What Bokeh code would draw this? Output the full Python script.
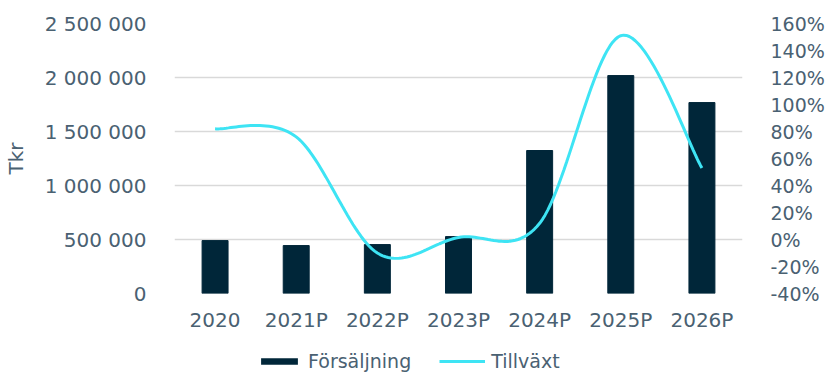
from bokeh.plotting import figure
from bokeh.layouts import column
from bokeh.models import (Range1d, LinearAxis, FactorRange, CustomJSTickFormatter,
                          FixedTicker, Legend, LegendItem, ColumnDataSource)
from bokeh.embed import file_html
from bokeh.resources import INLINE

categories = ["2020", "2021P", "2022P", "2023P", "2024P", "2025P", "2026P"]
sales = [490000, 444000, 453000, 527000, 1324000, 2018000, 1768000]
growth = [82, 76, -10, 1.5, 12, 151, 53]
left_ticks = [0, 500000, 1000000, 1500000, 2000000, 2500000]
right_ticks = [-40, -20, 0, 20, 40, 60, 80, 100, 120, 140, 160]
series_names = ["Försäljning", "Tillväxt"]

BAR = "#002639"
LINE = "#3ee4f4"
TXT = "#4a6172"
FONT = "DejaVu Sans"
FS = "20px"
FS_R = "19px"
NAN = float("nan")


def smooth(xs, ys, steps=30):
    # Catmull-Rom style Bezier smoothing (like spreadsheet "smoothed line")
    n = len(xs)
    px = [xs[0]] + list(xs) + [xs[-1]]
    py = [ys[0]] + list(ys) + [ys[-1]]
    outx, outy = [], []
    for i in range(n - 1):
        p0 = (px[i], py[i]); p1 = (px[i + 1], py[i + 1])
        p2 = (px[i + 2], py[i + 2]); p3 = (px[i + 3], py[i + 3])
        c1 = (p1[0] + (p2[0] - p0[0]) / 6, p1[1] + (p2[1] - p0[1]) / 6)
        c2 = (p2[0] - (p3[0] - p1[0]) / 6, p2[1] - (p3[1] - p1[1]) / 6)
        for s in range(steps + (1 if i == n - 2 else 0)):
            t = s / steps
            a = (1 - t) ** 3; b = 3 * (1 - t) ** 2 * t; c = 3 * (1 - t) * t ** 2; d = t ** 3
            outx.append(a * p1[0] + b * c1[0] + c * c2[0] + d * p2[0])
            outy.append(a * p1[1] + b * c1[1] + c * c2[1] + d * p2[1])
    return outx, outy


p = figure(width=827, height=345, x_range=FactorRange(*categories),
           y_range=Range1d(0, 2500000), output_backend="svg", toolbar_location=None)
p.min_border_left = 172
p.min_border_right = 85
p.min_border_top = 23
p.min_border_bottom = 52
p.outline_line_color = None
p.background_fill_color = "white"
p.border_fill_color = "white"

p.extra_y_ranges = {"pct": Range1d(-40, 160)}

src = ColumnDataSource(dict(x=categories, y=sales))
p.vbar(x="x", top="y", width=0.32, source=src, fill_color=BAR, line_color=BAR)

xs = [i + 0.5 for i in range(len(categories))]
sx, sy = smooth(xs, growth)
p.line(sx, sy, y_range_name="pct", line_color=LINE, line_width=3)

# left axis
ya = p.yaxis[0]
ya.ticker = FixedTicker(ticks=left_ticks)
ya.formatter = CustomJSTickFormatter(code="return tick.toFixed(0).replace(/\\B(?=(\\d{3})+(?!\\d))/g, ' ');")
ya.axis_label = "Tkr"
ya.axis_label_text_font = FONT
ya.axis_label_text_font_style = "normal"
ya.axis_label_text_font_size = FS
ya.axis_label_text_color = TXT
ya.axis_label_standoff = 14
ya.major_label_text_font = FONT
ya.major_label_text_font_size = FS
ya.major_label_text_color = TXT
ya.major_label_standoff = 22
ya.axis_line_color = None
ya.major_tick_line_color = None
ya.minor_tick_line_color = None

ra = LinearAxis(y_range_name="pct", ticker=FixedTicker(ticks=right_ticks),
                formatter=CustomJSTickFormatter(code="return tick.toFixed(0) + '%';"))
ra.major_label_text_font = FONT
ra.major_label_text_font_size = FS_R
ra.major_label_text_color = TXT
ra.major_label_standoff = 22
ra.axis_line_color = None
ra.major_tick_line_color = None
ra.minor_tick_line_color = None
p.add_layout(ra, "right")

xa = p.xaxis[0]
xa.major_label_text_font = FONT
xa.major_label_text_font_size = FS
xa.major_label_text_color = TXT
xa.major_label_standoff = 8
xa.axis_line_color = None
xa.major_tick_line_color = None
xa.minor_tick_line_color = None

p.xgrid.grid_line_color = None
p.ygrid.grid_line_color = "#d9d9d9"
p.ygrid.grid_line_width = 1.5
p.ygrid.ticker = FixedTicker(ticks=left_ticks)

# legend strip
lf = figure(width=827, height=27, x_range=Range1d(0, 1), y_range=Range1d(0, 1),
            output_backend="svg", toolbar_location=None)
lf.min_border = 0
lf.axis.visible = False
lf.grid.visible = False
lf.outline_line_color = None
lf.border_fill_color = "white"
lb = lf.vbar(x=[NAN], bottom=[NAN], top=[NAN], width=0.1, fill_color=BAR, line_color=None)
ll = lf.line(x=[NAN, NAN], y=[NAN, NAN], line_color=LINE, line_width=3)
legend = Legend(items=[LegendItem(label=series_names[0], renderers=[lb]),
                       LegendItem(label=series_names[1], renderers=[ll])],
                orientation="horizontal", location=(82, 0))
legend.label_text_font = FONT
legend.label_text_font_size = FS_R
legend.label_text_color = TXT
legend.glyph_width = 46
legend.glyph_height = 8
legend.label_height = 20
legend.label_standoff = 6
legend.spacing = 28
legend.padding = 0
legend.margin = 0
legend.border_line_color = None
legend.background_fill_alpha = 0
lf.add_layout(legend, "center")

open("out.html", "w").write(file_html(column(p, lf, spacing=0), INLINE))
